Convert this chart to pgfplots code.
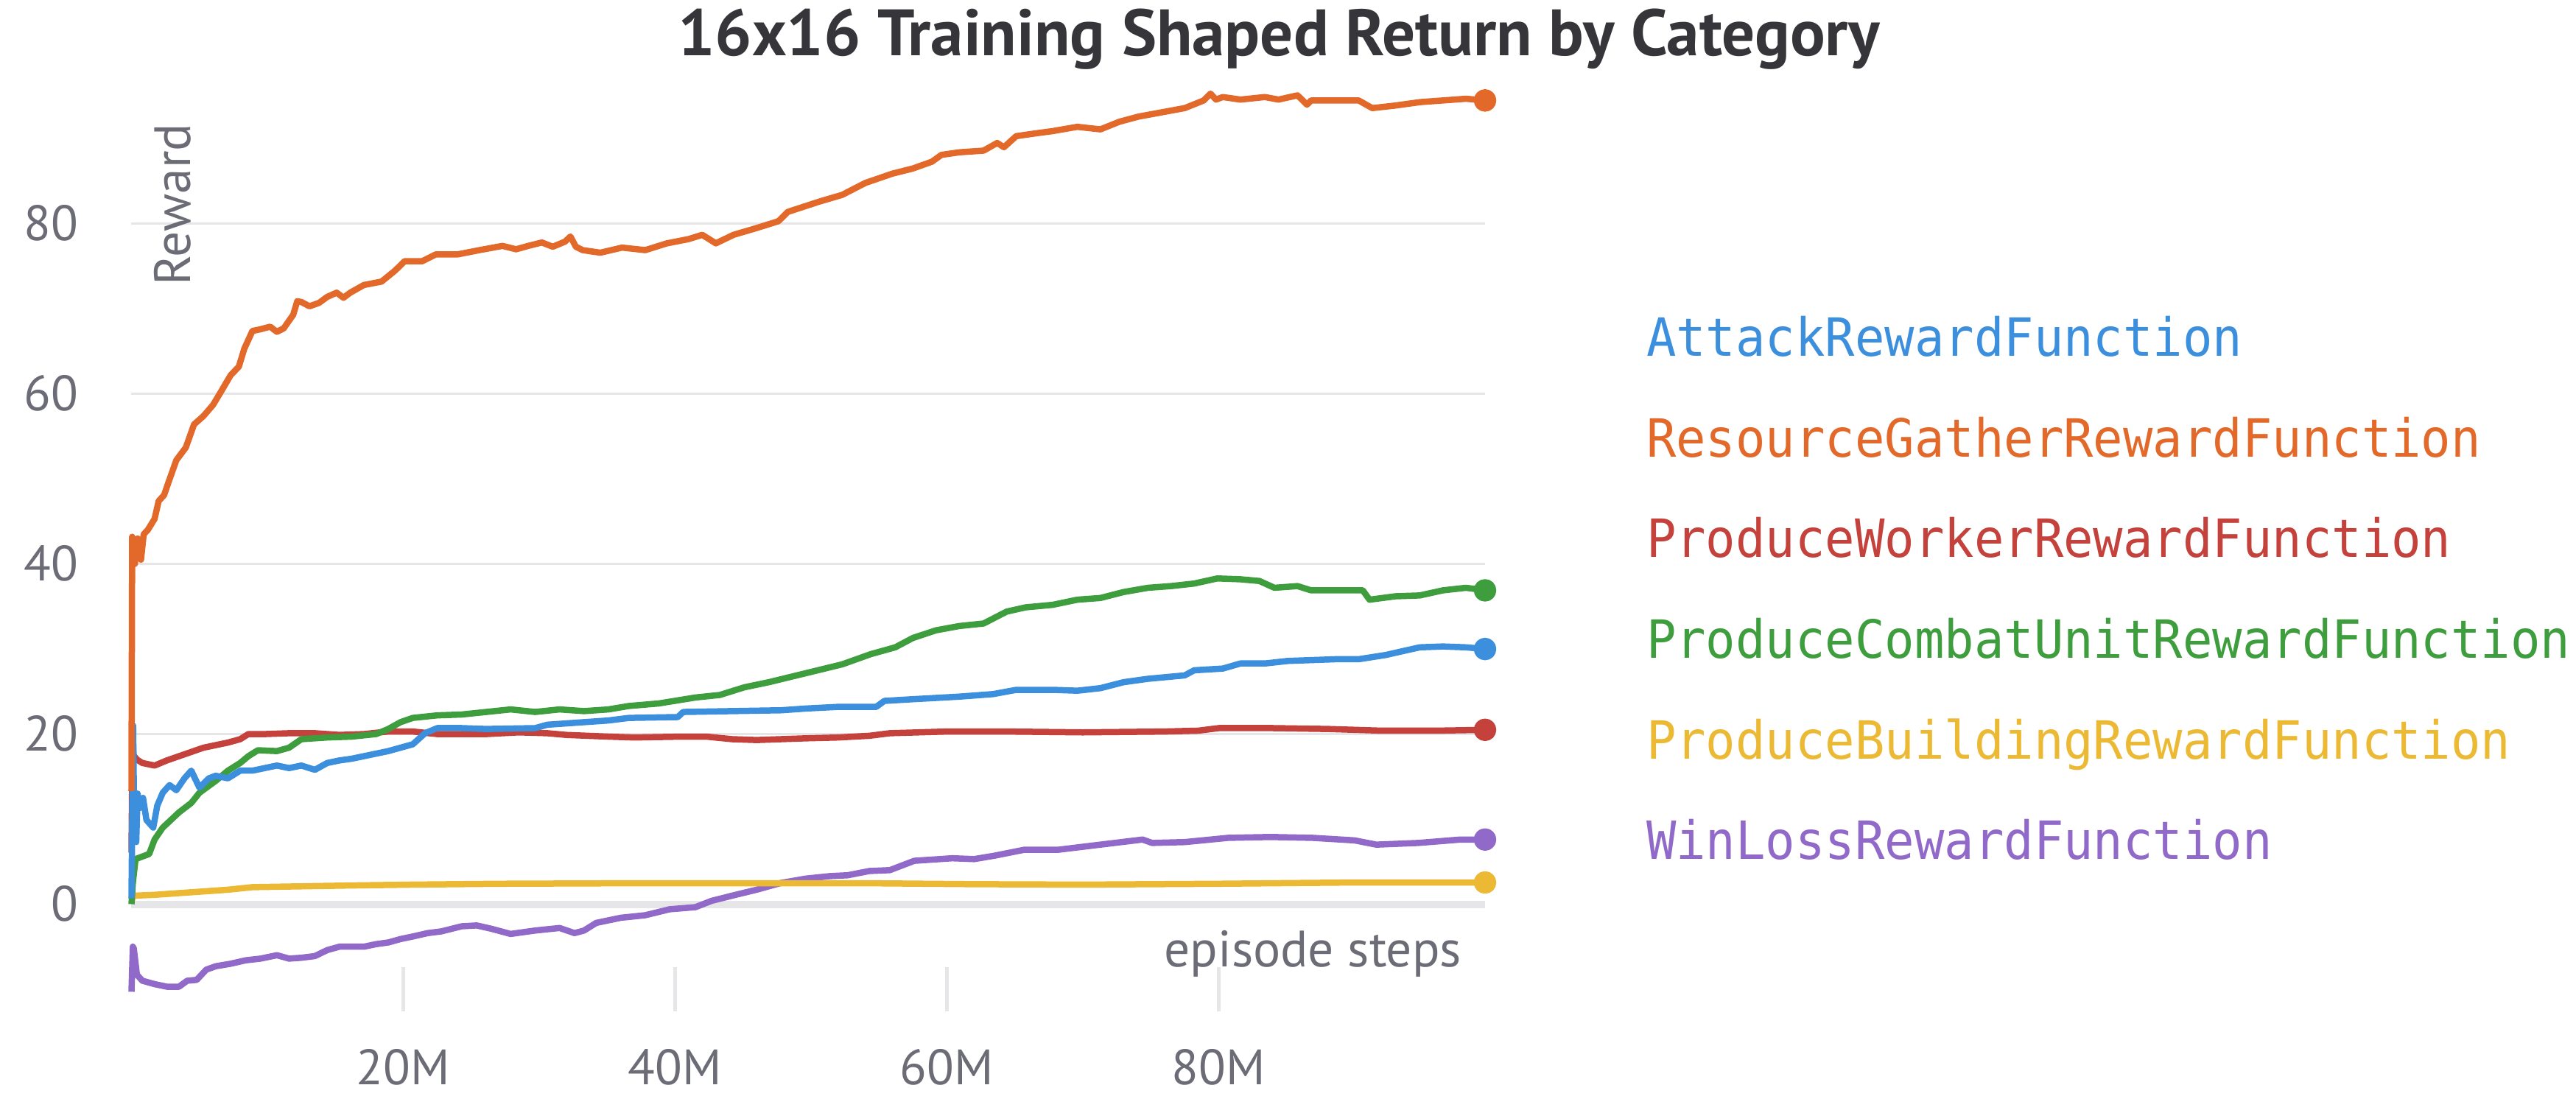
\documentclass[border=0pt]{standalone}
\usepackage{fontspec}
\setmainfont{PT Sans}
\newfontfamily\legfont[FakeStretch=0.94]{DejaVu Sans Mono}
\usepackage{pgfplots}
\pgfplotsset{compat=1.18}
\definecolor{atk}{HTML}{3B8FDD}
\definecolor{res}{HTML}{E2692A}
\definecolor{wrk}{HTML}{C4413C}
\definecolor{cmb}{HTML}{3E9E3E}
\definecolor{bld}{HTML}{ECB934}
\definecolor{wl}{HTML}{9069C9}
\definecolor{gridc}{HTML}{E6E6E9}
\definecolor{tickc}{HTML}{6C6C77}
\definecolor{titlec}{HTML}{35353A}
\begin{document}
\begin{tikzpicture}
\useasboundingbox (-35.7pt,-27.6pt) rectangle (663.7pt,274.6pt);
\begin{axis}[
  at={(0pt,0pt)}, anchor=south west,
  width=367.5pt, height=253.1pt, scale only axis,
  xmin=0, xmax=99.6, ymin=-12.6, ymax=97,
  axis x line=bottom, axis y line=left, axis line style={draw=none},
  xtick={20,40,60,80}, xticklabels={20M,40M,60M,80M},
  ytick={0,20,40,60,80},
  tick align=inside, major tick length=12pt,
  xtick style={draw=gridc, line width=1pt},
  ytick style={draw=none},
  ymajorgrids, grid style={draw=gridc, line width=0.6pt},
  /pgf/number format/assume math mode=true,
  ticklabel style={font=\fontsize{13.5}{16}\selectfont, text=tickc, inner sep=0pt},
  xticklabel style={anchor=base, yshift=-20pt},
  yticklabel style={anchor=base east, xshift=-14.3pt, yshift=-4.5pt},
  xlabel={episode steps},
  xlabel style={at={(rel axis cs:1,0)}, anchor=base east, xshift=-6.2pt, yshift=12pt, inner sep=0pt, font=\fontsize{13.9}{16}\selectfont, text=tickc},
  ylabel={Reward},
  ylabel style={at={(rel axis cs:0.0438,0.953)}, anchor=base east, inner sep=0pt, font=\fontsize{13.9}{16}\selectfont, text=tickc},
  clip=false,
  every axis plot/.append style={line width=1.7pt, line join=round},
]
% thick zero line
\addplot[gridc, line width=2pt, forget plot] coordinates {(0,0) (99.6,0)};
% WinLoss
\addplot[wl, mark=none] coordinates {
(0,-10.3) (0.1,-5.0) (0.17,-5.2) (0.4,-8.3) (0.8,-9.0) (1.7,-9.4) (2.6,-9.7) (3.5,-9.7) (4.1,-9.0) (4.8,-8.9) (5.5,-7.7) (6.2,-7.3) (7.3,-7.0) (8.4,-6.6) (9.5,-6.4) (10.7,-6.0) (11.6,-6.4) (12.5,-6.3) (13.5,-6.1) (14.4,-5.4) (15.3,-5.0) (17.1,-5.0) (18.0,-4.7) (18.9,-4.5) (19.8,-4.1) (20.7,-3.8) (21.8,-3.4) (22.8,-3.2) (24.3,-2.6) (25.4,-2.5) (26.5,-2.9) (27.9,-3.5) (29.7,-3.1) (31.5,-2.8) (32.6,-3.4) (33.3,-3.1) (34.2,-2.2) (36.0,-1.6) (37.8,-1.3) (39.6,-0.6) (41.5,-0.35) (42.7,0.4) (44.2,1.0) (46.0,1.7) (47.8,2.5) (49.6,3.0) (51.4,3.3) (52.7,3.4) (54.3,3.9) (55.8,4.0) (57.6,5.1) (60.4,5.4) (62.0,5.3) (63.5,5.7) (65.7,6.4) (68.2,6.4) (71.3,7.0) (74.4,7.6) (75.1,7.2) (77.5,7.3) (80.7,7.8) (83.8,7.9) (86.9,7.8) (90.0,7.5) (91.6,7.0) (94.7,7.2) (97.8,7.6) (99.6,7.6)};
% Building
\addplot[bld, mark=none] coordinates {
(0,0.5) (0.2,1.0) (1.7,1.1) (4.4,1.4) (7.1,1.7) (8.9,2.0) (12.5,2.1) (16.2,2.2) (20.7,2.3) (27,2.4) (35,2.45) (45,2.45) (55,2.45) (62,2.35) (70,2.3) (80,2.4) (90,2.55) (99.6,2.55)};
% Worker
\addplot[wrk, mark=none] coordinates {
(0,6.1) (0.08,19.5) (0.15,17.5) (0.4,17.0) (0.8,16.6) (1.7,16.3) (2.6,16.9) (3.5,17.4) (4.4,17.9) (5.3,18.4) (6.2,18.7) (7.1,19.0) (8.0,19.4) (8.6,20.0) (9.8,20.0) (11.6,20.1) (13.5,20.1) (15.3,19.9) (17.1,20.0) (18.9,20.3) (20.7,20.3) (22.5,20.0) (24.3,20.0) (26.1,20.0) (28.5,20.2) (30.6,20.1) (32.0,19.9) (35.1,19.7) (37.0,19.6) (40.5,19.7) (42.3,19.7) (44.2,19.4) (46.0,19.3) (49.6,19.5) (52.0,19.6) (54.3,19.8) (55.8,20.1) (60.0,20.3) (64.4,20.3) (70.0,20.2) (76.0,20.3) (78.5,20.4) (80.0,20.7) (84.0,20.7) (88.0,20.6) (92.0,20.4) (96.0,20.4) (99.6,20.5)};
% Combat
\addplot[cmb, mark=none] coordinates {
(0,0) (0.1,2.5) (0.3,5.3) (0.8,5.6) (1.3,5.9) (1.7,7.6) (2.3,9.0) (2.9,9.9) (3.5,10.8) (4.4,11.9) (5.0,13.1) (6.2,14.5) (7.1,15.7) (8.0,16.6) (8.6,17.4) (9.3,18.1) (10.7,18.0) (11.6,18.4) (12.5,19.4) (14.4,19.6) (16.2,19.7) (18.0,20.0) (18.9,20.6) (19.8,21.4) (20.7,21.9) (22.5,22.2) (24.3,22.3) (26.1,22.6) (27.9,22.9) (29.7,22.6) (31.5,22.9) (33.3,22.7) (35.1,22.9) (36.6,23.3) (38.8,23.6) (41.5,24.3) (43.3,24.6) (45.1,25.5) (46.9,26.1) (48.7,26.8) (50.5,27.5) (52.3,28.2) (54.4,29.4) (56.2,30.2) (57.5,31.3) (59.2,32.2) (60.9,32.7) (62.7,33.0) (64.4,34.4) (65.8,34.9) (67.8,35.2) (69.6,35.8) (71.3,36.0) (73.0,36.7) (74.8,37.2) (76.5,37.4) (78.2,37.7) (79.9,38.3) (81.6,38.2) (83.0,38.0) (84.1,37.2) (85.8,37.4) (86.8,36.9) (88.6,36.9) (90.6,36.9) (91.1,35.8) (93.0,36.2) (94.8,36.3) (96.5,36.9) (98.2,37.2) (99.6,36.9)};
% Attack
\addplot[atk, mark=none] coordinates {
(0,0.7) (0.12,21) (0.2,10) (0.28,13) (0.35,7.3) (0.45,13) (0.6,11.3) (0.85,12.5) (1.1,9.9) (1.6,9.0) (1.9,11.6) (2.3,13.1) (2.8,14.0) (3.3,13.4) (3.9,14.8) (4.4,15.7) (5.0,13.7) (5.7,14.8) (6.2,15.1) (7.1,14.8) (8.0,15.7) (8.9,15.7) (9.8,16.0) (10.7,16.3) (11.6,16.0) (12.5,16.3) (13.5,15.8) (14.4,16.6) (15.3,16.9) (16.2,17.1) (17.1,17.4) (18.0,17.7) (18.9,18.0) (19.8,18.4) (20.7,18.8) (21.6,20.1) (22.5,20.7) (24.3,20.7) (26.1,20.6) (29.7,20.7) (30.6,21.1) (33.3,21.4) (35.1,21.6) (36.6,21.9) (40.2,22.0) (40.6,22.6) (44.2,22.7) (47.8,22.8) (49.6,23.0) (52.0,23.2) (54.8,23.2) (55.4,23.9) (57.5,24.1) (60.9,24.4) (63.4,24.7) (65.1,25.2) (67.8,25.2) (69.6,25.1) (71.3,25.4) (73.0,26.1) (74.8,26.5) (77.5,26.9) (78.2,27.5) (80.3,27.7) (81.6,28.3) (83.4,28.3) (85.1,28.6) (88.6,28.8) (90.3,28.8) (92.3,29.3) (93.4,29.7) (94.8,30.2) (96.5,30.3) (98.2,30.2) (99.6,30.0)};
% Resource
\addplot[res, mark=none] coordinates {
(0,13.3) (0.05,43.2) (0.25,40) (0.45,43) (0.7,40.5) (0.9,43.5) (1.2,44.0) (1.7,45.3) (2.0,47.4) (2.4,48.1) (2.7,49.5) (3.3,52.2) (4.0,53.7) (4.6,56.4) (5.3,57.4) (6.0,58.7) (6.6,60.3) (7.3,62.2) (7.9,63.2) (8.3,65.3) (8.9,67.4) (9.5,67.6) (10.2,67.9) (10.7,67.3) (11.2,67.7) (11.9,69.3) (12.2,70.9) (12.5,70.8) (13.1,70.3) (13.8,70.7) (14.4,71.4) (15.1,71.9) (15.6,71.3) (16.1,71.9) (17.1,72.8) (18.4,73.2) (19.4,74.5) (20.1,75.6) (21.4,75.6) (22.4,76.4) (24.0,76.4) (25.6,76.9) (27.3,77.4) (28.3,77.0) (29.2,77.4) (30.2,77.8) (31.0,77.3) (31.9,77.9) (32.3,78.5) (32.7,77.3) (33.2,76.9) (34.5,76.6) (36.1,77.2) (37.8,76.9) (39.4,77.7) (41.0,78.2) (42.0,78.7) (43.0,77.7) (44.3,78.7) (46.0,79.5) (47.6,80.3) (48.3,81.4) (50.6,82.6) (52.3,83.4) (54.0,84.8) (56.0,85.9) (57.5,86.5) (58.9,87.3) (59.6,88.1) (60.9,88.4) (62.7,88.6) (63.7,89.5) (64.2,89.0) (65.1,90.3) (66.4,90.6) (67.8,90.9) (69.6,91.4) (71.3,91.1) (72.7,92.0) (74.1,92.6) (75.8,93.1) (77.5,93.6) (78.9,94.5) (79.4,95.3) (79.8,94.6) (80.3,94.9) (81.6,94.6) (83.4,94.9) (84.4,94.6) (85.8,95.1) (86.5,94.0) (86.8,94.5) (88.6,94.5) (90.3,94.5) (91.3,93.6) (93.0,93.9) (94.8,94.3) (96.5,94.5) (98.2,94.7) (99.6,94.5)};
% end markers
\addplot[wl, only marks, mark=*, mark size=2.2pt] coordinates {(99.6,7.6)};
\addplot[bld, only marks, mark=*, mark size=2.2pt] coordinates {(99.6,2.55)};
\addplot[wrk, only marks, mark=*, mark size=2.2pt] coordinates {(99.6,20.5)};
\addplot[cmb, only marks, mark=*, mark size=2.2pt] coordinates {(99.6,36.9)};
\addplot[atk, only marks, mark=*, mark size=2.2pt] coordinates {(99.6,30.0)};
\addplot[res, only marks, mark=*, mark size=2.2pt] coordinates {(99.6,94.5)};
\end{axis}
\node[anchor=base, inner sep=0pt, text=titlec, font=\bfseries\fontsize{17.8}{21}\selectfont] at (311.5pt,259.4pt) {16x16 Training Shaped Return by Category};
\begin{scope}[every node/.style={anchor=base west, inner sep=0pt, font=\legfont\fontsize{14.3}{16}\selectfont}]
\node[text=atk] at (411.1pt,177.9pt) {AttackRewardFunction};
\node[text=res] at (411.1pt,150.57pt) {ResourceGatherRewardFunction};
\node[text=wrk] at (411.1pt,123.24pt) {ProduceWorkerRewardFunction};
\node[text=cmb] at (411.1pt,95.91pt) {ProduceCombatUnitRewardFunction};
\node[text=bld] at (411.1pt,68.58pt) {ProduceBuildingRewardFunction};
\node[text=wl] at (411.1pt,41.25pt) {WinLossRewardFunction};
\end{scope}
\end{tikzpicture}
\end{document}
